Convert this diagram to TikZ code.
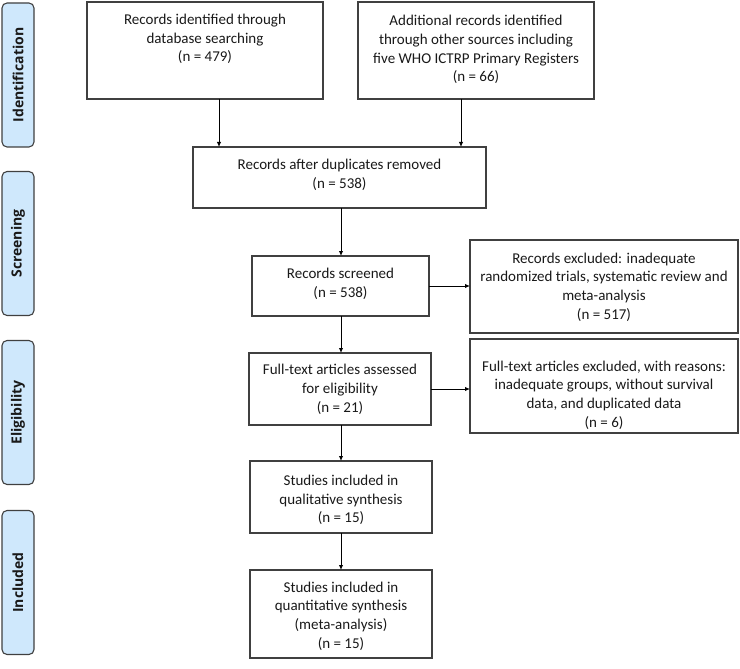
\documentclass[tikz,border=0pt]{standalone}
\usepackage{fontspec}
\setmainfont{Carlito}
\newfontfamily\sidefont{Open Sans}
\usetikzlibrary{arrows.meta}
\definecolor{sidefill}{RGB}{207,232,252}
\definecolor{edge}{RGB}{64,64,64}
\definecolor{ink}{RGB}{25,25,25}
\tikzset{
  flowbox/.style={draw=edge, line width=1.1pt, inner sep=0pt, outer sep=0pt},
  boxtext/.style={inner sep=0pt, align=center, text=ink, font=\fontsize{15}{18.7}\selectfont},
  sidebox/.style={draw=edge, fill=sidefill, line width=1.1pt, rounded corners=5pt, inner sep=0pt, outer sep=0pt,
    minimum width=32pt, minimum height=144pt},
  sidetext/.style={rotate=90, font=\sidefont\fontsize{14}{16}\selectfont\bfseries, text=ink},
  arr/.style={draw=black, line width=1pt, -{Latex[length=5pt,width=4.5pt]}}
}
\begin{document}
\begin{tikzpicture}[x=1pt,y=-1pt]
\useasboundingbox (0,0) rectangle (740,669);
% side labels
\node[sidebox] (sid) at (18,75) {};
\node[sidetext] (tid) at (sid.center) {Identification};
\node[sidebox] (ssc) at (18,243.5) {};
\node[sidetext] (tsc) at (ssc.center) {Screening};
\node[sidebox] (sel) at (18,412.5) {};
\node[sidetext] (tel) at (sel.center) {Eligibility};
\node[sidebox] (sin) at (18,582.5) {};
\node[sidetext] (tin) at (sin.center) {Included};
% boxes
\node[flowbox, minimum width=236pt, minimum height=97pt] (b1) at (205,50.5) {};
\node[boxtext] (t1) at (205,39) {Records identified through\\database searching\\(n = 479)};
\node[flowbox, minimum width=236pt, minimum height=97pt] (b2) at (476,50.5) {};
\node[boxtext] (t2) at (476,49.5) {Additional records identified\\through other sources including\\five WHO ICTRP Primary Registers\\(n = 66)};
\node[flowbox, minimum width=293pt, minimum height=61pt] (b3) at (339.5,177.5) {};
\node[boxtext] (t3) at (339.5,174.5) {Records after duplicates removed\\(n = 538)};
\node[flowbox, minimum width=177pt, minimum height=60pt] (b4) at (340.5,286) {};
\node[boxtext] (t4) at (340.5,284) {Records screened\\(n = 538)};
\node[flowbox, minimum width=182pt, minimum height=72pt] (b5) at (340,389) {};
\node[boxtext] (t5) at (340,389.5) {Full-text articles assessed\\for eligibility\\(n = 21)};
\node[flowbox, minimum width=182pt, minimum height=72pt] (b6) at (341,497) {};
\node[boxtext] (t6) at (341,500) {Studies included in\\qualitative synthesis\\(n = 15)};
\node[flowbox, minimum width=182pt, minimum height=88pt] (b7) at (341,614) {};
\node[boxtext] (t7) at (341,616) {Studies included in\\quantitative synthesis\\(meta-analysis)\\(n = 15)};
\node[flowbox, minimum width=268pt, minimum height=93pt] (b8) at (604,286.5) {};
\node[boxtext] (t8) at (604,287) {Records excluded: inadequate\\randomized trials, systematic review and\\meta-analysis\\(n = 517)};
\node[flowbox, minimum width=268pt, minimum height=94pt] (b9) at (604,386) {};
\node[boxtext] (t9) at (604,395) {Full-text articles excluded, with reasons:\\inadequate groups, without survival\\data, and duplicated data\\(n = 6)};
% connectors
\coordinate (xa) at (219,0);
\coordinate (xb) at (461,0);
\coordinate (xc) at (341,0);
\draw[arr] (b1.south -| xa) -- (b3.north -| xa);
\draw[arr] (b2.south -| xb) -- (b3.north -| xb);
\draw[arr] (b3.south -| xc) -- (b4.north -| xc);
\draw[arr] (b4.south -| xc) -- (b5.north -| xc);
\draw[arr] (b5.south -| xc) -- (b6.north -| xc);
\draw[arr] (b6.south -| xc) -- (b7.north -| xc);
\draw[arr] (b4.east) -- (b8.west |- b4.east);
\draw[arr] (b5.east) -- (b9.west |- b5.east);
\end{tikzpicture}
\end{document}
